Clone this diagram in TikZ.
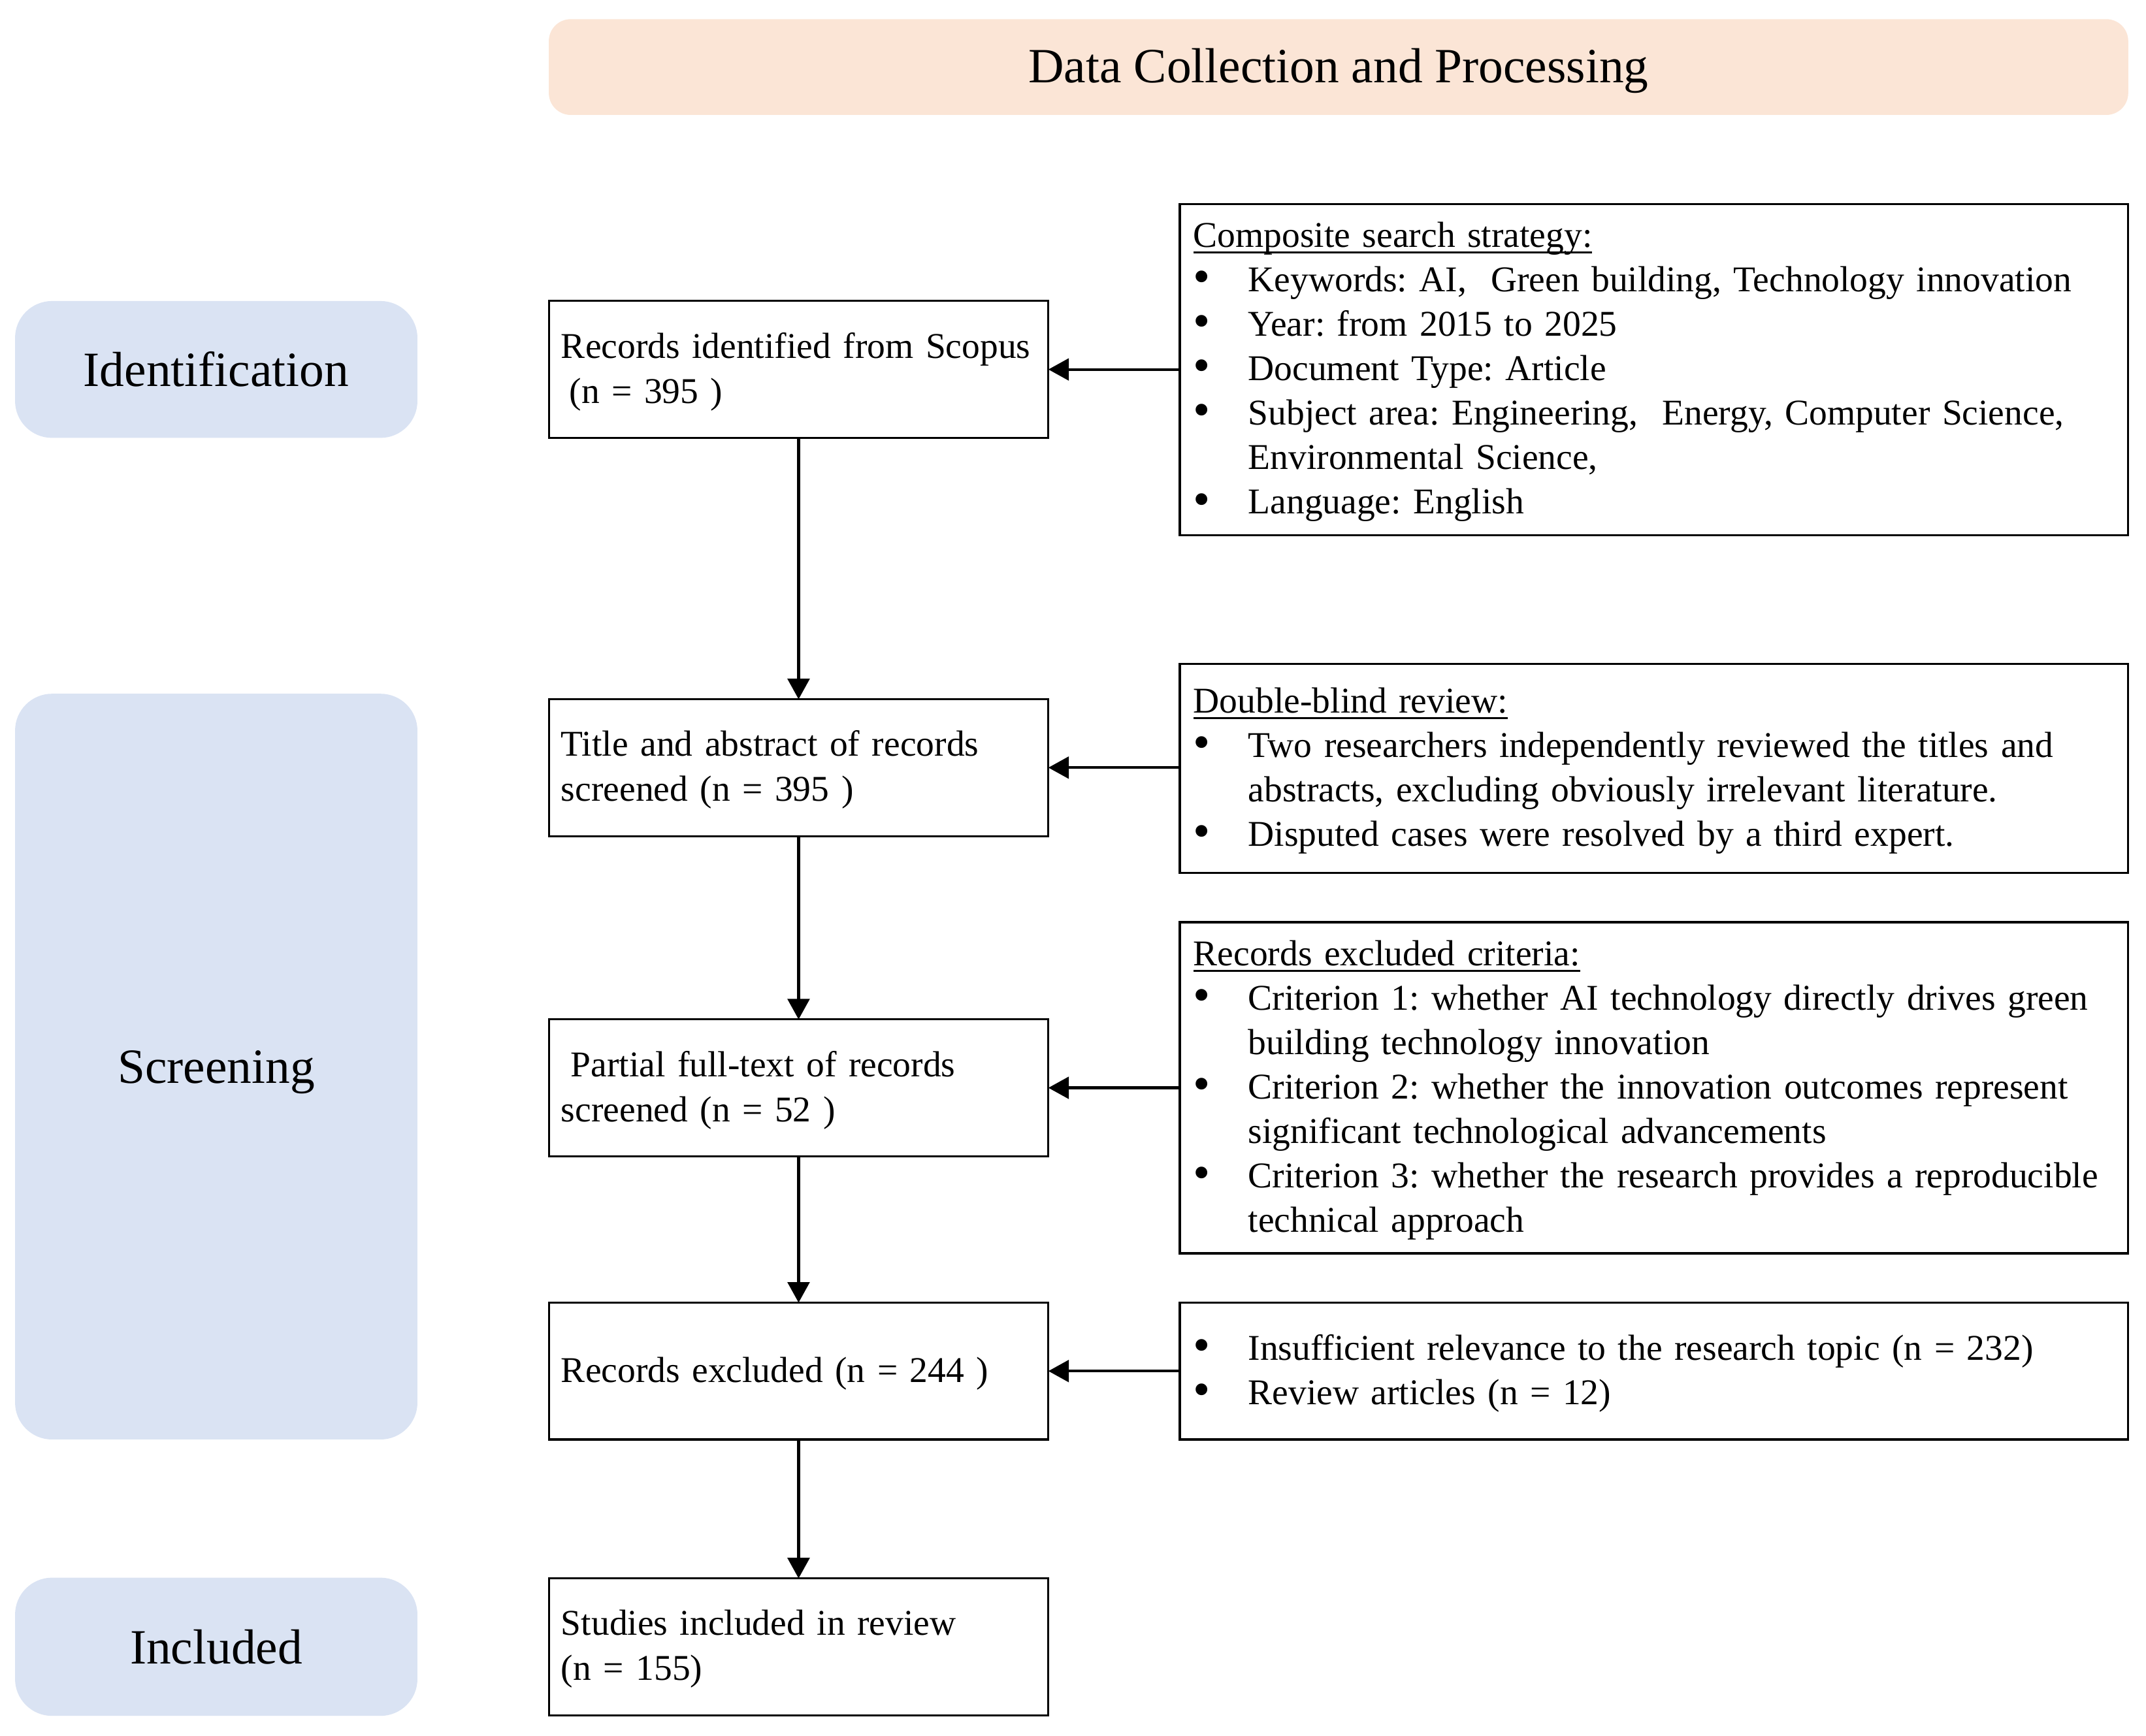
\documentclass[tikz,border=0pt]{standalone}
\usepackage{fontspec}
\setmainfont{Liberation Serif}
\usetikzlibrary{arrows.meta}
\definecolor{peach}{HTML}{FBE5D6}
\definecolor{lblue}{HTML}{DAE3F3}
\frenchspacing
\hyphenpenalty=10000
\exhyphenpenalty=10000
\newsavebox\hdbox
\newcommand{\tstr}{\rule{0pt}{22.25pt}}
\newcommand{\bstr}{\rule[-6pt]{0pt}{0pt}}
\newcommand{\hdul}[1]{\sbox\hdbox{#1}\usebox\hdbox\llap{\rule[-4.5pt]{\wd\hdbox}{1.3pt}}}
\newcommand{\bmark}{\makebox[40pt][l]{\raisebox{-1pt}{\scalebox{1.35}{•}}}}
\newcommand{\bitem}[1]{\par\hangindent=40pt\hangafter=1\noindent\bmark#1}
\newcommand{\bfirst}[1]{\hangindent=40pt\hangafter=1\noindent\bmark#1}
\begin{document}
\begin{tikzpicture}[x=1pt,y=-1pt,
  every node/.style={inner sep=0pt, outer sep=0pt},
  banner/.style={fill=peach, rounded corners=16pt, minimum width=1154pt, minimum height=70pt, text height=30.6pt, text depth=7.8pt, font=\fontsize{36}{43}\selectfont},
  stage/.style={fill=lblue, rounded corners=27pt, minimum width=294pt, text height=24.6pt, text depth=0pt, font=\fontsize{36}{43}\selectfont},
  midbox/.style={draw, line width=1.5pt, minimum width=365pt, minimum height=100pt, text width=347pt, inner xsep=9pt, align=left, font=\fontsize{26.5}{33}\selectfont},
  sidebox/.style={draw, line width=1.5pt, minimum width=693pt, text width=673pt, inner xsep=10pt, font=\fontsize{26.5}{32.5}\selectfont},
  downarrow/.style={-{Triangle[width=16pt,length=15pt]}, line width=2pt},
  feedarrow/.style={-{Triangle[width=16pt,length=15pt]}, line width=2pt}
]
\useasboundingbox (0,0) rectangle (1568,1268.7);

\node[banner] (title) at (978,49) {Data Collection and Processing};

\node[stage, minimum height=100pt] (sid) at (158,270) {Identification};
\node[stage, minimum height=545pt] (sscr) at (158,779.5) {Screening};
\node[stage, minimum height=101pt] (sinc) at (158,1203.5) {Included};

\node[midbox] (b1) at (583.5,270) {\tstr Records identified from Scopus\\\hspace*{6pt}(n = 395 )\bstr};
\node[midbox] (b2) at (583.5,561) {\tstr Title and abstract of records\\screened (n = 395 )\bstr};
\node[midbox] (b3) at (583.5,795) {\tstr\hspace*{7pt}Partial full-text of records\\screened (n = 52 )\bstr};
\node[midbox] (b4) at (583.5,1002) {\tstr Records excluded (n = 244 )\bstr};
\node[midbox] (b5) at (583.5,1203.5) {\tstr Studies included in review\\(n = 155)\bstr};

\node[sidebox, minimum height=242pt] (r1) at (1208.5,270) {\raggedright\noindent\tstr
\hdul{Composite search strategy:}
\bitem{Keywords: AI,\ \ Green building, Technology innovation}
\bitem{Year: from 2015 to 2025}
\bitem{Document Type: Article}
\bitem{Subject area: Engineering,\ \ Energy, Computer Science,\newline Environmental Science,}
\bitem{Language: English\bstr}\par};

\node[sidebox, minimum height=153pt] (r2) at (1208.5,561.5) {\raggedright\noindent\tstr
\hdul{Double-blind review:}
\bitem{Two researchers independently reviewed the titles and\newline abstracts, excluding obviously irrelevant literature.}
\bitem{Disputed cases were resolved by a third expert.\bstr}\par};

\node[sidebox, minimum height=242pt] (r3) at (1208.5,795) {\raggedright\noindent\tstr
\hdul{Records excluded criteria:}
\bitem{Criterion 1: whether AI technology directly drives green\newline building technology innovation}
\bitem{Criterion 2: whether the innovation outcomes represent\newline significant technological advancements}
\bitem{Criterion 3: whether the research provides a reproducible\newline technical approach\bstr}\par};

\node[sidebox, minimum height=100pt] (r4) at (1208.5,1002) {\raggedright
\bfirst{\tstr Insufficient relevance to the research topic (n = 232)}
\bitem{Review articles (n = 12)\bstr}\par};

\draw[downarrow] (b1) -- (b2);
\draw[downarrow] (b2) -- (b3);
\draw[downarrow] (b3) -- (b4);
\draw[downarrow] (b4) -- (b5);

\draw[feedarrow] (r1.west) -- (b1.east);
\draw[feedarrow] (r2.west |- b2.east) -- (b2.east);
\draw[feedarrow] (r3.west) -- (b3.east);
\draw[feedarrow] (r4.west) -- (b4.east);
\end{tikzpicture}
\end{document}
